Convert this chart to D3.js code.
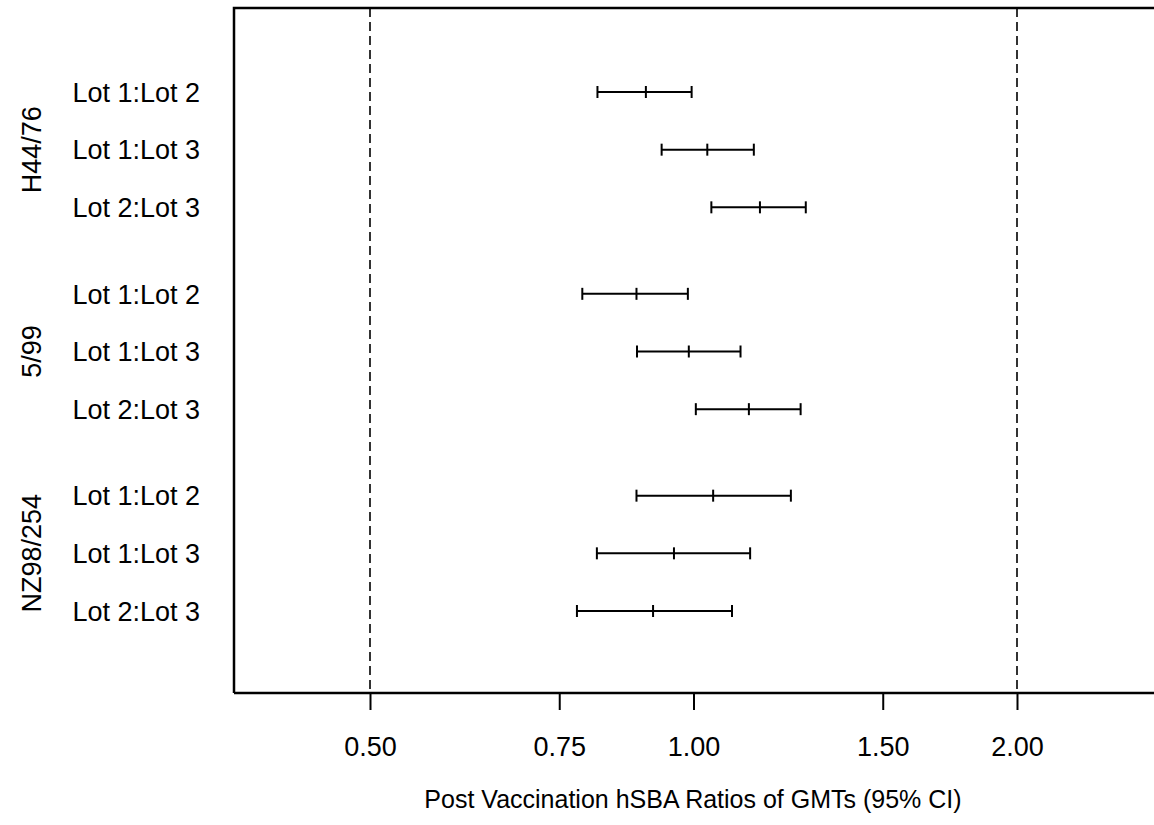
<!DOCTYPE html>
<html>

<head>
  <meta charset="utf-8">
  <title>hSBA GMT ratios</title>
  <style>
    body { margin: 0; background: #fff; }
    text { font-family: "Liberation Sans", Arial, sans-serif; fill: #000; }
  </style>
</head>

<body>
  <script src="https://d3js.org/d3.v7.min.js"></script>
  <script>
    // rows of the forest plot, top to bottom
    var groups = ["H44/76", "5/99", "NZ98/254"];
    var comparisons = ["Lot 1:Lot 2", "Lot 1:Lot 3", "Lot 2:Lot 3"];
    var ratio = [0.903, 1.030, 1.153, 0.885, 0.990, 1.126, 1.043, 0.959, 0.917];
    var lower = [0.814, 0.934, 1.039, 0.788, 0.886, 1.005, 0.885, 0.813, 0.779];
    var upper = [0.996, 1.138, 1.272, 0.988, 1.106, 1.258, 1.232, 1.129, 1.086];
    var tickValues = [0.50, 0.75, 1.00, 1.50, 2.00];
    var refLines = [0.5, 2.0];

    var width = 1154;
    var height = 825;
    var plotLeft = 234, plotTop = 8, plotBottom = 693;

    var svg = d3.select("body").append("svg")
      .attr("width", width).attr("height", height);

    var x = d3.scaleLog().domain([0.5, 2]).range([370, 1017]);
    // slot positions: a half-slot gap between strain groups
    var slot = function(i) { return Math.floor(i / 3) * 3.5 + (i % 3); };
    var y = d3.scaleLinear().domain([0, 9]).range([92, 611]);

    var rows = ratio.map(function(r, i) {
      return { group: groups[Math.floor(i / 3)], label: comparisons[i % 3],
               mid: r, lo: lower[i], hi: upper[i], s: slot(i) };
    });

    // frame: left and top, open to the right (as in the scan)
    svg.append("path")
      .attr("d", "M" + width + "," + plotTop + "H" + plotLeft + "V" + plotBottom)
      .attr("fill", "none").attr("stroke", "#000").attr("stroke-width", 2.5);

    // dashed reference lines
    svg.selectAll(".ref").data(refLines).enter().append("line")
      .attr("x1", function(d) { return x(d); }).attr("x2", function(d) { return x(d); })
      .attr("y1", plotTop).attr("y2", plotBottom)
      .attr("stroke", "#000").attr("stroke-width", 1.6)
      .attr("stroke-dasharray", "9,5");

    // x axis
    var xAxis = d3.axisBottom(x).tickValues(tickValues)
      .tickFormat(d3.format(".2f")).tickSize(17).tickPadding(27);
    var gx = svg.append("g").attr("transform", "translate(0," + plotBottom + ")").call(xAxis);
    gx.select(".domain").remove();
    gx.append("line").attr("x1", plotLeft).attr("x2", width)
      .attr("stroke", "#000").attr("stroke-width", 2.5);
    gx.selectAll(".tick line").attr("stroke", "#000").attr("stroke-width", 2);
    gx.selectAll(".tick text").attr("font-size", 27)
      .style("font-family", "'Liberation Sans', Arial, sans-serif").attr("fill", "#000");

    svg.append("text")
      .attr("x", 693).attr("y", 808)
      .attr("text-anchor", "middle").attr("font-size", 25)
      .text("Post Vaccination hSBA Ratios of GMTs (95% CI)");

    // row labels
    svg.selectAll(".lab").data(rows).enter().append("text")
      .attr("x", 200).attr("y", function(d) { return y(d.s); })
      .attr("dy", "0.36em").attr("text-anchor", "end").attr("font-size", 27)
      .text(function(d) { return d.label; });

    // group labels, rotated
    svg.selectAll(".grp").data(groups).enter().append("text")
      .attr("transform", function(d, i) {
        return "translate(41," + y(i * 3.5 + 1) + ") rotate(-90)";
      })
      .attr("text-anchor", "middle").attr("font-size", 27)
      .text(function(d) { return d; });

    // confidence intervals
    var ci = svg.selectAll(".ci").data(rows).enter().append("g")
      .attr("stroke", "#000").attr("stroke-width", 2);
    ci.append("line")
      .attr("x1", function(d) { return x(d.lo); }).attr("x2", function(d) { return x(d.hi); })
      .attr("y1", function(d) { return y(d.s); }).attr("y2", function(d) { return y(d.s); });
    ["lo", "mid", "hi"].forEach(function(k) {
      ci.append("line")
        .attr("x1", function(d) { return x(d[k]); }).attr("x2", function(d) { return x(d[k]); })
        .attr("y1", function(d) { return y(d.s) - 6; }).attr("y2", function(d) { return y(d.s) + 6; });
    });
  </script>
</body>

</html>
